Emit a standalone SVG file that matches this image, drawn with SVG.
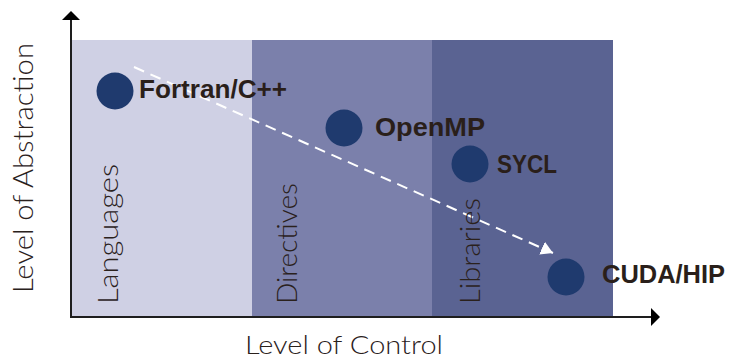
<svg xmlns="http://www.w3.org/2000/svg" width="730" height="360" viewBox="0 0 730 360">
<style>
.axis{stroke:#1e1e1e;stroke-width:2;fill:none}
.thin{font-family:"Lato","Liberation Sans",sans-serif;font-weight:300;fill:#2a211c}
.bold{font-family:"Liberation Sans",Arial,sans-serif;font-weight:bold;font-size:25px;fill:#2a1f1a}
.dot{fill:#1f3a6e}
</style>
<defs>
<marker id="wh" viewBox="0 0 12 14" refX="12" refY="7" markerWidth="12" markerHeight="14" markerUnits="userSpaceOnUse" orient="auto">
<path d="M0,0 L12,7 L0,14 Z" fill="#ffffff"/>
</marker>
</defs>
<g id="panels">
<rect id="languages-panel" x="71" y="40" width="181" height="277" fill="#cfd0e4"/>
<rect id="directives-panel" x="252" y="40" width="180" height="277" fill="#7b80ab"/>
<rect id="libraries-panel" x="432" y="40" width="181" height="277" fill="#5a6392"/>
</g>
<g id="connectors">
<line class="axis" x1="71" y1="318" x2="71" y2="19"/>
<path d="M62,20 L71,11 L80,20 Z" fill="#000"/>
<line class="axis" x1="70" y1="317" x2="652" y2="317"/>
<path d="M651,308 L660,317 L651,326 Z" fill="#000"/>
<line x1="134" y1="67" x2="553" y2="253" stroke="#ffffff" stroke-width="2" stroke-dasharray="11,7" marker-end="url(#wh)"/>
</g>
<g id="axis-labels">
<text class="thin" font-size="27" text-anchor="middle" transform="translate(33,168) rotate(-90)" textLength="250" lengthAdjust="spacingAndGlyphs">Level of Abstraction</text>
<text class="thin" font-size="26" x="245" y="354" textLength="198" lengthAdjust="spacingAndGlyphs">Level of Control</text>
</g>
<g id="category-labels">
<text class="thin" font-size="28" transform="translate(118,304) rotate(-90)" textLength="140" lengthAdjust="spacingAndGlyphs">Languages</text>
<text class="thin" font-size="28" transform="translate(297,304) rotate(-90)" textLength="121" lengthAdjust="spacingAndGlyphs">Directives</text>
<text class="thin" font-size="28" transform="translate(480,304) rotate(-90)" textLength="106" lengthAdjust="spacingAndGlyphs">Libraries</text>
</g>
<g id="node-fortran">
<circle class="dot" cx="115" cy="91" r="18.5"/>
<text class="bold" x="139" y="98" textLength="148" lengthAdjust="spacingAndGlyphs">Fortran/C++</text>
</g>
<g id="node-openmp">
<circle class="dot" cx="344" cy="128" r="18.5"/>
<text class="bold" x="375" y="136" textLength="110" lengthAdjust="spacingAndGlyphs">OpenMP</text>
</g>
<g id="node-sycl">
<circle class="dot" cx="470" cy="164" r="18.5"/>
<text class="bold" x="497" y="173" textLength="60" lengthAdjust="spacingAndGlyphs">SYCL</text>
</g>
<g id="node-cuda">
<circle class="dot" cx="566" cy="277" r="18.5"/>
<text class="bold" x="602" y="283" textLength="123" lengthAdjust="spacingAndGlyphs">CUDA/HIP</text>
</g>
</svg>
